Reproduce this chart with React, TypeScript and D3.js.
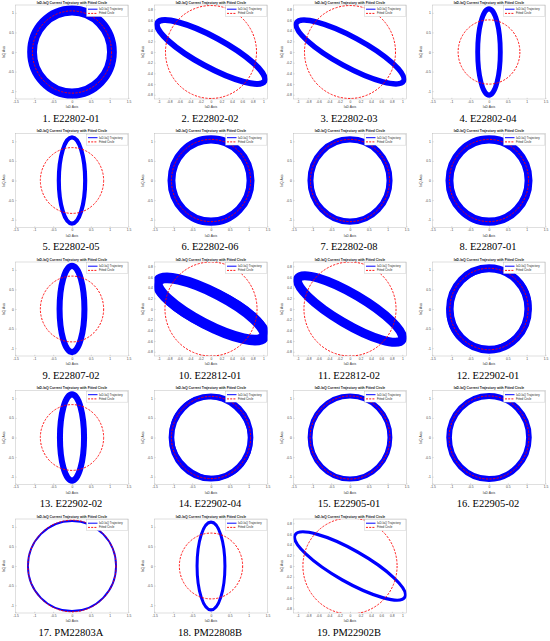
import React, { useEffect, useRef } from "react";
import * as d3 from "d3";

// panel captions, in reading order
const captions = [
  "1. E22802-01", "2. E22802-02", "3. E22802-03", "4. E22802-04",
  "5. E22802-05", "6. E22802-06", "7. E22802-08", "8. E22807-01",
  "9. E22807-02", "10. E22812-01", "11. E22812-02", "12. E22902-01",
  "13. E22902-02", "14. E22902-04", "15. E22905-01", "16. E22905-02",
  "17. PM22803A", "18. PM22808B", "19. PM22902B",
];

// wide axes run -1.5..1.5, narrow ones -1..1
const axesKind = [
  "wide", "narrow", "narrow", "wide",
  "wide", "wide", "wide", "wide",
  "wide", "narrow", "narrow", "wide",
  "wide", "wide", "wide", "wide",
  "wide", "wide", "narrow",
];

const wideXTicks = [-1.5, -1, -0.5, 0, 0.5, 1, 1.5];
const wideYTicks = [-1, -0.5, 0, 0.5, 1];
const narrowXTicks = [-1, -0.8, -0.6, -0.4, -0.2, 0, 0.2, 0.4, 0.6, 0.8, 1];
const narrowYTicks = [-0.8, -0.6, -0.4, -0.2, 0, 0.2, 0.4, 0.6, 0.8];

// IaD-IaQ loop: half axis along the tilt, half axis across,
// tilt (deg, counter-clockwise), and band spread of the overlapping cycles
const trajMajor = [1.06, 1.16, 1.16, 1.1, 1.1, 1.05, 1.05, 1.05, 1.1, 1.14, 1.15, 1.04, 1.1, 1.05, 1.06, 1.06, 1.17, 1.12, 1.2];
const trajMinor = [1.06, 0.28, 0.28, 0.3, 0.35, 1.05, 1.05, 1.05, 0.33, 0.3, 0.28, 1.04, 0.32, 1.05, 1.06, 1.06, 1.15, 0.37, 0.3];
const trajTilt = [0, -28, -28, 90, 90, 0, 0, 0, 90, -27, -30, 0, 90, 0, 0, 0, 0, 90, -29];
const trajSpread = [0.26, 0.11, 0.1, 0.13, 0.11, 0.21, 0.16, 0.21, 0.16, 0.2, 0.17, 0.2, 0.16, 0.15, 0.13, 0.15, 0.05, 0.08, 0.06];

// second, slightly shifted cycles seen on the rougher panels
const extraPanel = [9, 11, 13];
const extraMajor = [1.12, 1.09, 1.08];
const extraMinor = [0.33, 1.0, 1.0];
const extraTilt = [-25, 30, -40];
const extraSpread = [0.12, 0.12, 0.1];

// fitted circle radius per panel
const circleR = [1.05, 0.87, 0.87, 0.82, 0.84, 1.05, 1.05, 1.05, 0.84, 0.88, 0.88, 1.04, 0.84, 1.05, 1.06, 1.06, 1.17, 0.84, 0.9];

const SANS = "'Liberation Sans', Arial, sans-serif";
const SERIF = "'Liberation Serif', 'Times New Roman', serif";

function App() {
  const ref = useRef<SVGSVGElement>(null);

  useEffect(() => {
    const svg = d3.select(ref.current);
    svg.selectAll("*").remove();

    captions.forEach((cap, i) => {
      const col = i % 4;
      const row = Math.floor(i / 4);
      const cx = 72 + col * 139;
      const cy = 52 + row * 128.5;
      const wide = axesKind[i] === "wide";
      const xMax = wide ? 1.5 : 1.08;
      const yMax = wide ? 1.2 : 0.88;

      const x = d3.scaleLinear().domain([-xMax, xMax]).range([cx - 56.5, cx + 56.5]);
      const y = d3.scaleLinear().domain([-yMax, yMax]).range([cy + 47, cy - 47]);
      const [left, right] = x.range();
      const [bottom, top] = y.range();
      const kx = x(1) - x(0);
      const ky = y(0) - y(1);

      const panel = svg.append("g");

      // axes box
      panel.append("rect")
        .attr("x", left).attr("y", top)
        .attr("width", right - left).attr("height", bottom - top)
        .attr("fill", "white").attr("stroke", "#b0b0b0").attr("stroke-width", 0.4);

      const fmt = (d: d3.NumberValue) => String(d);
      const xAxis = d3.axisBottom(x).tickValues(wide ? wideXTicks : narrowXTicks)
        .tickSize(-1.2).tickPadding(1.6).tickFormat(fmt);
      const yAxis = d3.axisLeft(y).tickValues(wide ? wideYTicks : narrowYTicks)
        .tickSize(-1.2).tickPadding(1.6).tickFormat(fmt);

      const gx = panel.append("g").attr("transform", `translate(0,${bottom})`).call(xAxis);
      const gy = panel.append("g").attr("transform", `translate(${left},0)`).call(yAxis);
      [gx, gy].forEach((g) => {
        g.select(".domain").remove();
        g.selectAll("line").attr("stroke", "#888").attr("stroke-width", 0.3);
        g.selectAll("text").attr("font-size", 3.3).attr("font-family", SANS).attr("fill", "#444");
      });

      // clip to the axes
      const clipId = `clip-${i}`;
      panel.append("clipPath").attr("id", clipId)
        .append("rect").attr("x", left).attr("y", top)
        .attr("width", right - left).attr("height", bottom - top);
      const plot = panel.append("g").attr("clip-path", `url(#${clipId})`);

      const loops = plot.append("g")
        .attr("transform", `translate(${x(0)},${y(0)}) scale(${kx},${-ky})`);

      loops.append("ellipse")
        .attr("rx", trajMajor[i]).attr("ry", trajMinor[i])
        .attr("transform", `rotate(${trajTilt[i]})`)
        .attr("fill", "none").attr("stroke", "#0000ff")
        .attr("stroke-width", trajSpread[i]);

      const e = extraPanel.indexOf(i);
      if (e >= 0) {
        loops.append("ellipse")
          .attr("rx", extraMajor[e]).attr("ry", extraMinor[e])
          .attr("transform", `rotate(${extraTilt[e]})`)
          .attr("fill", "none").attr("stroke", "#0000ff")
          .attr("stroke-width", extraSpread[e]);
      }

      // fitted circle
      plot.append("ellipse")
        .attr("cx", x(0)).attr("cy", y(0))
        .attr("rx", circleR[i] * kx).attr("ry", circleR[i] * ky)
        .attr("fill", "none").attr("stroke", "#ff0000")
        .attr("stroke-width", 0.9).attr("stroke-dasharray", "2.2,1.4");

      // legend
      const lg = panel.append("g").attr("transform", `translate(${right - 42},${top + 0.6})`);
      lg.append("rect").attr("width", 41.4).attr("height", 11)
        .attr("fill", "white").attr("stroke", "#aaa").attr("stroke-width", 0.3);
      lg.append("line").attr("x1", 1.5).attr("x2", 11).attr("y1", 3.6).attr("y2", 3.6)
        .attr("stroke", "#0000ff").attr("stroke-width", 1);
      lg.append("line").attr("x1", 1.5).attr("x2", 11).attr("y1", 7.8).attr("y2", 7.8)
        .attr("stroke", "#ff0000").attr("stroke-width", 0.9).attr("stroke-dasharray", "2,1.2");
      lg.append("text").attr("x", 12.5).attr("y", 4.6).text("IaD-IaQ Trajectory")
        .attr("font-size", 2.9).attr("font-family", SANS).attr("fill", "#222");
      lg.append("text").attr("x", 12.5).attr("y", 8.8).text("Fitted Circle")
        .attr("font-size", 2.9).attr("font-family", SANS).attr("fill", "#222");

      // titles and labels
      panel.append("text").attr("x", (left + right) / 2).attr("y", top - 1.2)
        .attr("text-anchor", "middle").attr("font-size", 3.4).attr("font-weight", "bold")
        .attr("font-family", SANS).attr("fill", "#222")
        .text("IaD-IaQ Current Trajectory with Fitted Circle");
      panel.append("text").attr("x", (left + right) / 2).attr("y", bottom + 9)
        .attr("text-anchor", "middle").attr("font-size", 3.4)
        .attr("font-family", SANS).attr("fill", "#333").text("IaD Axis");
      panel.append("text")
        .attr("transform", `translate(${left - 10.5},${(top + bottom) / 2}) rotate(-90)`)
        .attr("text-anchor", "middle").attr("font-size", 3.4)
        .attr("font-family", SANS).attr("fill", "#333").text("IaQ Axis");

      panel.append("text").attr("x", cx - 1).attr("y", cy + 69.5)
        .attr("text-anchor", "middle").attr("font-size", 10.5)
        .attr("font-family", SERIF).attr("fill", "#000").text(cap);
    });
  }, []);

  return (
    <svg ref={ref} width={550} height={641}
      style={{ position: "absolute", left: 0, top: 0, background: "white" }} />
  );
}

export default App;
